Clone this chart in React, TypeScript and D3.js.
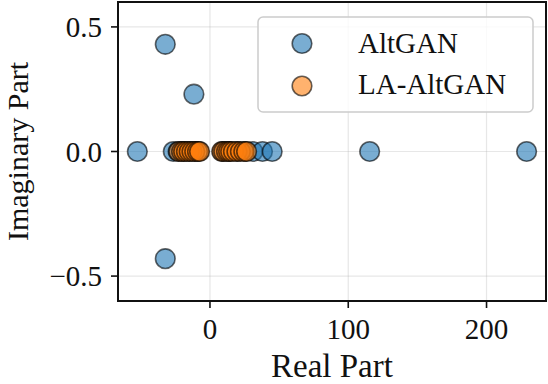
import * as d3 from "d3"
import React from "react"

// eigenvalues
const altReal = [-52.5, -32.3, -32.3, -11.6, -26.5, -23, -19, -15, -11, -8, 9, 14, 20, 26, 31, 38, 45, 115.5, 229]
const altImag = [0, 0.43, -0.43, 0.23, 0, 0, 0, 0, 0, 0, 0, 0, 0, 0, 0, 0, 0, 0, 0]
const laReal = [-22.5, -20.5, -19, -17, -15, -13, -11, -9, -7.5, 8.5, 10, 12, 13.5, 15, 17, 19.5, 22, 24.5, 26.5]
const laImag = [0, 0, 0, 0, 0, 0, 0, 0, 0, 0, 0, 0, 0, 0, 0, 0, 0, 0, 0]
const xTickVals = [0, 100, 200]
const yTickVals = [-0.5, 0.0, 0.5]
const seriesNames = ["AltGAN", "LA-AltGAN"]
const seriesColors = ["#1f77b4", "#ff7f0e"]

export default function App() {
  const W = 548, H = 384
  const left = 118, right = 546, top = 2, bottom = 301
  const font = "'Liberation Serif', 'DejaVu Serif', serif"
  const x = d3.scaleLinear().domain([-66.5, 243]).range([left, right])
  const y = d3.scaleLinear().domain([-0.6, 0.6]).range([bottom, top])
  const fmtY = (v: number) => (v < 0 ? "\u2212" : "") + d3.format(".1f")(Math.abs(v))
  const r = 9.8

  const series = [
    { xs: altReal, ys: altImag },
    { xs: laReal, ys: laImag },
  ]

  return (
    <svg width={W} height={H} style={{ position: "absolute", left: 0, top: 0, background: "#fff" }}>
      {/* grid */}
      {xTickVals.map(v => (
        <line key={"gx" + v} x1={x(v)} x2={x(v)} y1={top} y2={bottom} stroke="#b0b0b0" strokeOpacity={0.3} strokeWidth={1.2} />
      ))}
      {yTickVals.map(v => (
        <line key={"gy" + v} x1={left} x2={right} y1={y(v)} y2={y(v)} stroke="#b0b0b0" strokeOpacity={0.3} strokeWidth={1.2} />
      ))}
      {/* points */}
      {series.map((s, si) => (
        <g key={si}>
          {s.xs.map((xv, i) => (
            <circle key={i} cx={x(xv)} cy={y(s.ys[i])} r={r}
              fill={seriesColors[si]} fillOpacity={0.6}
              stroke="#000" strokeOpacity={0.6} strokeWidth={1.6} />
          ))}
        </g>
      ))}
      {/* frame */}
      <rect x={left} y={top} width={right - left} height={bottom - top} fill="none" stroke="#111" strokeWidth={2} />
      {/* x ticks */}
      {xTickVals.map(v => (
        <g key={"xt" + v}>
          <line x1={x(v)} x2={x(v)} y1={bottom} y2={bottom + 7} stroke="#111" strokeWidth={1.6} />
          <text x={x(v)} y={339} textAnchor="middle" fontFamily={font} fontSize={29} fill="#111">{v}</text>
        </g>
      ))}
      {/* y ticks */}
      {yTickVals.map(v => (
        <g key={"yt" + v}>
          <line x1={left - 7} x2={left} y1={y(v)} y2={y(v)} stroke="#111" strokeWidth={1.6} />
          <text x={102} y={y(v)} dy="0.35em" textAnchor="end" fontFamily={font} fontSize={29} fill="#111">{fmtY(v)}</text>
        </g>
      ))}
      {/* axis labels */}
      <text x={(left + right) / 2} y={377} textAnchor="middle" fontFamily={font} fontSize={33} fill="#111">Real Part</text>
      <text transform={`translate(28,${(top + bottom) / 2}) rotate(-90)`} textAnchor="middle" fontFamily={font} fontSize={30} fill="#111">Imaginary Part</text>
      {/* legend */}
      <g>
        <rect x={258} y={17} width={275} height={95} rx={5} fill="#fff" fillOpacity={0.8} stroke="#cccccc" strokeWidth={1.5} />
        {seriesNames.map((name, i) => (
          <g key={name}>
            <circle cx={302} cy={43.5 + i * 42.5} r={r} fill={seriesColors[i]} fillOpacity={0.6} stroke="#000" strokeOpacity={0.6} strokeWidth={1.6} />
            <text x={358} y={53 + i * 41} fontFamily={font} fontSize={29} fill="#111">{name}</text>
          </g>
        ))}
      </g>
    </svg>
  )
}
